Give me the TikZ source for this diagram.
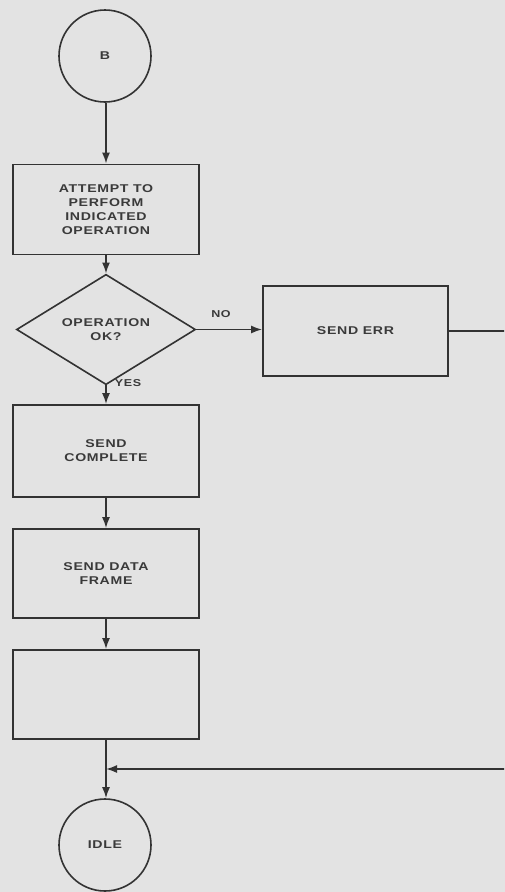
\documentclass[tikz,border=0pt]{standalone}
\usepackage{fontspec}
\setmainfont{Liberation Sans}
\newfontfamily\lblfont[FakeStretch=1.25,LetterSpace=6]{Liberation Sans}
\usetikzlibrary{shapes.geometric,arrows.meta}
\definecolor{bg}{HTML}{E3E3E3}
\definecolor{ink}{HTML}{333333}
\definecolor{txt}{HTML}{3A3A3A}
\tikzset{
  every node/.style={font=\lblfont\bfseries\fontsize{11.3}{14}\selectfont, text=txt},
  stepbox/.style={draw=ink, line width=1.8pt, minimum width=186pt, minimum height=90pt, align=center, inner sep=0pt},
  termcirc/.style={draw=ink, line width=1.6pt, circle, minimum size=92pt, inner sep=0pt},
  decide/.style={draw=ink, line width=1.6pt, diamond, minimum width=179pt, minimum height=85pt, align=center, inner sep=0pt},
  flow/.style={draw=ink, line width=1.7pt, -{Latex[length=11pt,width=8pt]}},
  lbl/.style={font=\lblfont\bfseries\fontsize{10}{12}\selectfont, inner sep=1pt}
}
\begin{document}
\begin{tikzpicture}[x=1pt,y=-1pt]
\useasboundingbox (0,0) rectangle (504,892);
\fill[bg] (-3,-3) rectangle (507,895);
\clip (0,0) rectangle (504,892);

\node[termcirc] (B) at (105,56) {B};
\node[stepbox] (attempt) at (106,209.5) {ATTEMPT TO\\PERFORM\\INDICATED\\OPERATION};
\node[decide] (opok) at (106,329.5) {OPERATION\\OK?};
\node[stepbox, minimum width=185pt] (senderr) at (355.5,331) {SEND ERR};
\node[stepbox, minimum height=92pt] (complete) at (106,451) {SEND\\COMPLETE};
\node[stepbox, minimum height=89pt] (dataframe) at (106,573.5) {SEND DATA\\FRAME};
\node[stepbox, minimum height=89pt] (empty) at (106,694.5) {};
\node[termcirc] (idle) at (105,845) {IDLE};

\node[lbl] (no) at (221,314) {NO};
\node[lbl] (yes) at (128,383) {YES};

\coordinate (r1) at (510,331);
\coordinate (r2) at (510,769);
\coordinate (j) at (106,769);

\draw[flow] (B.south -| attempt.north) -- (attempt);
\draw[flow] (attempt) -- (opok);
\draw[flow] (opok.east) -- (senderr.west |- opok.east);
\draw[flow] (opok) -- (complete);
\draw[flow] (complete) -- (dataframe);
\draw[flow] (dataframe) -- (empty);
\draw[flow] (empty.south) -- (empty.south |- idle.north);
\draw[flow] (senderr.east) -- (r1) -- (r2) -- (j);
\end{tikzpicture}
\end{document}
